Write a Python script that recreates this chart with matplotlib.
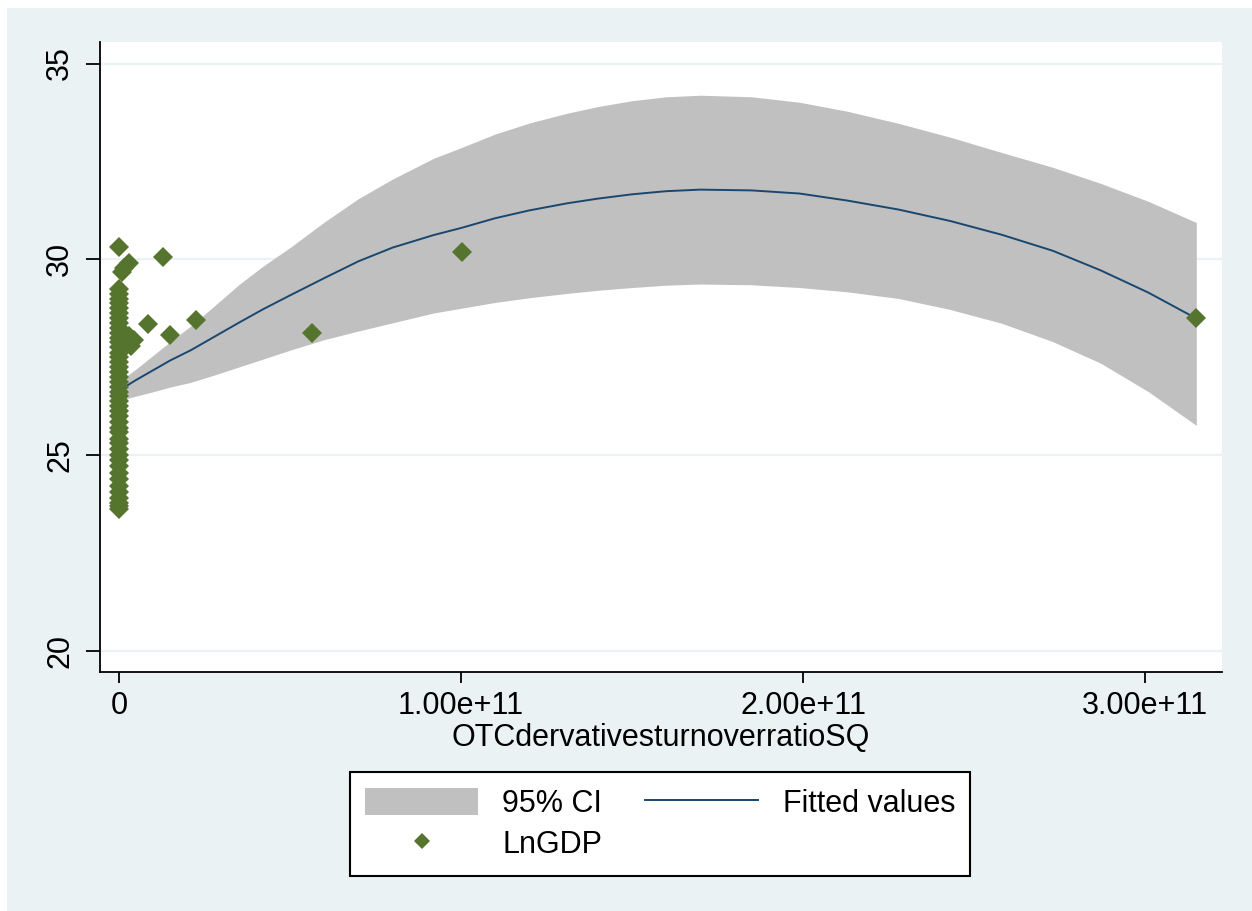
import matplotlib
matplotlib.use('Agg')
import matplotlib.pyplot as plt
from matplotlib.patches import Rectangle, Patch
from matplotlib.lines import Line2D

plt.rcParams['font.family'] = ['Liberation Sans', 'DejaVu Sans']

# Stata s2color look
BG = '#EAF2F3'
CI_COLOR = '#C0C0C0'
FIT_COLOR = '#1A476F'
PT_COLOR = '#55752F'

# --- data (x in units of 1e11) ---
# LnGDP scatter: most observations sit at x ~ 0
pt_x = [0.0] * 44 + [0.0, 0.010, 0.015, 0.030, 0.030, 0.045, 0.035,
                     0.086, 0.130, 0.149, 0.225, 0.564, 1.003, 3.150]
pt_y = [23.62, 23.70, 23.78, 23.90, 24.05, 24.22, 24.40, 24.55, 24.72, 24.88,
        25.00, 25.15, 25.30, 25.42, 25.58, 25.70, 25.85, 26.00, 26.12, 26.25,
        26.38, 26.50, 26.62, 26.75, 26.88, 27.00, 27.12, 27.25, 27.38, 27.50,
        27.62, 27.75, 27.88, 28.00, 28.12, 28.25, 28.38, 28.50, 28.62, 28.75,
        28.88, 29.00, 29.12, 29.25,
        30.31, 29.67, 29.77, 29.90, 28.05, 27.95, 27.80,
        28.36, 30.05, 28.08, 28.44, 28.11, 30.18, 28.49]

# quadratic fit and its 95% CI
fit_x = [0.0, 0.05, 0.10, 0.15, 0.21, 0.28, 0.35, 0.42, 0.50, 0.60, 0.70,
         0.80, 0.92, 1.00, 1.10, 1.20, 1.31, 1.40, 1.50, 1.60, 1.70, 1.85,
         1.99, 2.13, 2.28, 2.43, 2.58, 2.73, 2.87, 3.01, 3.15]
fit_y = [26.65, 26.92, 27.17, 27.42, 27.68, 28.03, 28.38, 28.72, 29.08, 29.52,
         29.95, 30.30, 30.62, 30.80, 31.05, 31.25, 31.43, 31.55, 31.66, 31.74,
         31.78, 31.76, 31.68, 31.50, 31.27, 30.98, 30.63, 30.22, 29.72, 29.15,
         28.49]
ci_hi = [26.88, 27.20, 27.55, 27.90, 28.30, 28.82, 29.35, 29.82, 30.30, 30.95,
         31.55, 32.05, 32.58, 32.85, 33.20, 33.48, 33.73, 33.90, 34.05, 34.15,
         34.19, 34.15, 34.01, 33.78, 33.47, 33.12, 32.73, 32.35, 31.94, 31.48,
         30.94]
ci_lo = [26.40, 26.51, 26.62, 26.74, 26.86, 27.05, 27.25, 27.45, 27.68, 27.95,
         28.17, 28.38, 28.63, 28.75, 28.90, 29.02, 29.13, 29.21, 29.28, 29.34,
         29.37, 29.35, 29.28, 29.17, 29.00, 28.72, 28.37, 27.90, 27.35, 26.62,
         25.76]

x_ticks = [0, 1e11, 2e11, 3e11]
x_tick_labels = ['0', '1.00e+11', '2.00e+11', '3.00e+11']
y_ticks = [20, 25, 30, 35]

E11 = 1e11

W, H = 1252, 911
fig = plt.figure(figsize=(W / 100, H / 100), dpi=100, facecolor='white')
fig.patches.append(Rectangle((7 / W, 0), 1, 1 - 8 / H, transform=fig.transFigure,
                             facecolor=BG, edgecolor='none', zorder=-10))
ax = fig.add_axes([100 / W, 239 / H, 1122 / W, 630 / H])
ax.set_facecolor('white')

ax.fill_between([v * E11 for v in fit_x], ci_lo, ci_hi, color=CI_COLOR,
                linewidth=0, zorder=1)
ax.plot([v * E11 for v in fit_x], fit_y, '-', color=FIT_COLOR, linewidth=1.4,
        zorder=2)
ax.plot([v * E11 for v in pt_x], pt_y, 'D', color=PT_COLOR, markersize=10.5,
        markeredgewidth=0, linestyle='none', zorder=3)

ax.set_xlim(-0.0556 * E11, 3.2251 * E11)
ax.set_ylim(19.464, 35.549)
ax.set_xticks(x_ticks)
ax.set_xticklabels(x_tick_labels)
ax.set_yticks(y_ticks)

ax.set_axisbelow(True)
ax.yaxis.grid(True, color=BG, linewidth=1.6)
ax.xaxis.grid(False)
for sp in ('top', 'right'):
    ax.spines[sp].set_visible(False)
for sp in ('left', 'bottom'):
    ax.spines[sp].set_linewidth(1.3)

ax.tick_params(axis='y', length=10, width=1.3, labelsize=22, pad=8,
               labelrotation=90)
ax.tick_params(axis='x', length=8, width=1.3, labelsize=22, pad=6)
for lab in ax.get_yticklabels():
    lab.set_va('center')
ax.set_xlabel('OTCdervativesturnoverratioSQ', fontsize=22, labelpad=1)

h_ci = Patch(facecolor=CI_COLOR, edgecolor='none')
h_pt = Line2D([0], [0], marker='D', color=PT_COLOR, markersize=8,
              markeredgewidth=0, linestyle='none')
h_fit = Line2D([0], [0], color=FIT_COLOR, linewidth=1.4)
leg = fig.legend(handles=[h_ci, h_pt, h_fit],
                 labels=['95% CI', 'LnGDP', 'Fitted values'],
                 ncol=2, loc='center', bbox_to_anchor=(0.5272, 0.0955),
                 fontsize=22, frameon=True, fancybox=False, framealpha=1,
                 edgecolor='black', handlelength=3.7, handleheight=1.0,
                 handletextpad=0.8, columnspacing=1.4, labelspacing=0.35,
                 borderpad=0.5)
leg.get_frame().set_linewidth(1.5)

fig.savefig('out.png', dpi=100, facecolor=fig.get_facecolor())
